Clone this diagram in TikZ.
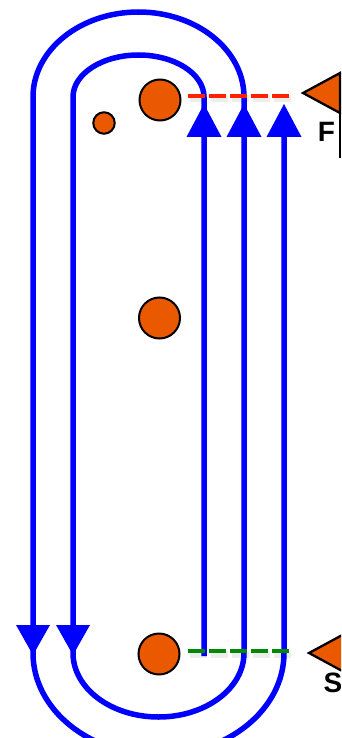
\documentclass[tikz,border=0pt]{standalone}
\usepackage{fontspec}
\newfontfamily\labelfont{Liberation Sans}
\definecolor{ballorange}{RGB}{234,88,0}
\definecolor{dashred}{RGB}{255,34,0}
\definecolor{dashgreen}{RGB}{0,136,0}
\definecolor{pathblue}{RGB}{0,0,255}
\tikzset{
  blueline/.style={draw=pathblue,line width=5.5pt},
  bluehead/.style={fill=pathblue},
  ball/.style={circle,draw=black,line width=2pt,fill=ballorange,inner sep=0pt},
  bigball/.style={ball,minimum size=41pt},
  smallball/.style={ball,minimum size=21.5pt},
  dashline/.style={line width=4.8pt,dash pattern=on 17pt off 4pt},
  dashshadow/.style={line width=7pt,dash pattern=on 17pt off 4pt,draw=black,opacity=0.07},
  flag/.style={draw=black,line width=2.3pt,fill=ballorange,line join=miter},
  flaglabel/.style={font=\labelfont\bfseries\fontsize{28}{28}\selectfont,inner sep=0pt}
}
\begin{document}
\begin{tikzpicture}[x=1pt,y=-1pt]
\useasboundingbox (0,0) rectangle (341,738);
\clip (0,0) rectangle (341,738);
\fill[white] (0,0) rectangle (341,738);
% spiral path
\draw[blueline] (204,656) -- (204,97)
  arc[start angle=0,end angle=180,x radius=65.5pt,y radius=42pt]
  -- (73,653)
  arc[start angle=180,end angle=360,x radius=85.5pt,y radius=64pt]
  -- (244,97)
  arc[start angle=0,end angle=180,x radius=105.5pt,y radius=85pt]
  -- (33,653)
  arc[start angle=180,end angle=360,x radius=125.5pt,y radius=102pt]
  -- (284,125);
% up arrowheads
\foreach \xx in {204,244,284}{
  \fill[bluehead] (\xx,104) -- (\xx+17.5,137) -- (\xx-17.5,137) -- cycle;
}
% down arrowheads
\foreach \xx in {33,73}{
  \fill[bluehead] (\xx,655) -- (\xx+17,625) -- (\xx-17,625) -- cycle;
}
% dashed lines with soft shadow
\draw[dashshadow] (190,99) -- (291,99);
\draw[dashshadow] (190,654) -- (291,654);
\coordinate (fstart) at (188,96);
\coordinate (fend) at (290,96);
\coordinate (sstart) at (188,651);
\coordinate (send) at (290,651);
\draw[dashline,draw=dashred] (fstart) -- (fend);
\draw[dashline,draw=dashgreen] (sstart) -- (send);
% balls
\node[bigball] (ballF) at (160,100) {};
\node[smallball] (ballsmall) at (104,123) {};
\node[bigball] (ballmid) at (159.5,318) {};
\node[bigball] (ballS) at (159,654) {};
% flags
\draw[flag] (303,93) -- (340,73) -- (340,113) -- cycle;
\draw[black,line width=2.3pt] (340,73) -- (340,158);
\draw[flag] (309,653) -- (346,633) -- (346,673) -- cycle;
\node[flaglabel] (labelF) at (326.5,132) {F};
\node[flaglabel] (labelS) at (333,683) {S};
\end{tikzpicture}
\end{document}
